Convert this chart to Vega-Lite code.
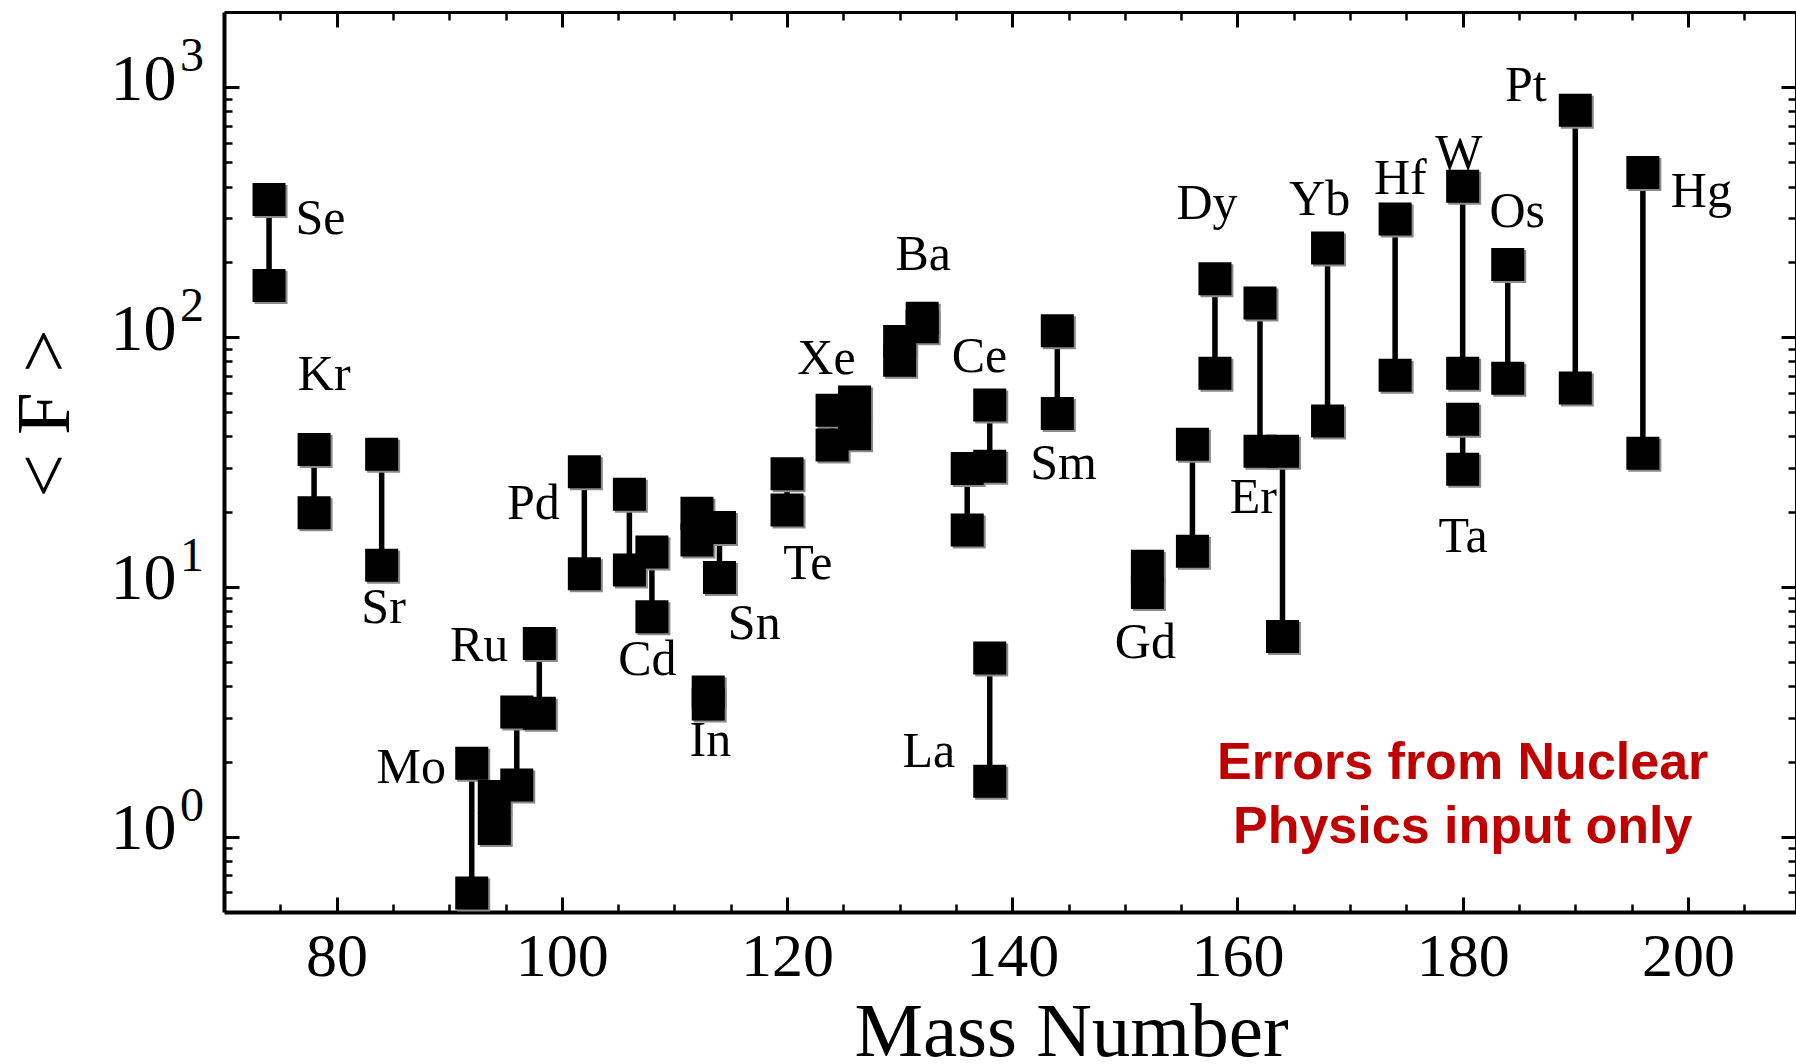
{
  "$schema": "https://vega.github.io/schema/vega-lite/v6.json",
  "width": 1572,
  "height": 900,
  "autosize": {"type": "none"},
  "padding": {"left": 224, "top": 12, "right": 0, "bottom": 152},
  "background": "white",
  "config": {
    "view": {"stroke": null},
    "axis": {
      "domainColor": "black",
      "tickColor": "black",
      "labelColor": "black",
      "labelFont": "Liberation Serif",
      "titleFont": "Liberation Serif",
      "titleColor": "black",
      "titleFontWeight": "normal",
      "grid": false
    }
  },
  "datasets": {
    "pairs": [
      {"el": "Se", "A": 74, "lo": 161, "hi": 355},
      {"el": "Kr", "A": 78, "lo": 19.8, "hi": 35.5},
      {"el": "Sr", "A": 84, "lo": 12.2, "hi": 34},
      {"el": "Mo", "A": 92, "lo": 0.595, "hi": 1.97},
      {"el": "Mo", "A": 94, "lo": 1.08, "hi": 1.45},
      {"el": "Ru", "A": 96, "lo": 1.61, "hi": 3.16},
      {"el": "Ru", "A": 98, "lo": 3.12, "hi": 5.94},
      {"el": "Pd", "A": 102, "lo": 11.3, "hi": 28.9},
      {"el": "Cd", "A": 106, "lo": 11.7, "hi": 23.5},
      {"el": "Cd", "A": 108, "lo": 7.6, "hi": 13.8},
      {"el": "Sn", "A": 112, "lo": 15.4, "hi": 19.7},
      {"el": "In", "A": 113, "lo": 3.4, "hi": 3.8},
      {"el": "Sn", "A": 114, "lo": 10.9, "hi": 17.3},
      {"el": "Te", "A": 120, "lo": 20.3, "hi": 28.4},
      {"el": "Xe", "A": 124, "lo": 37, "hi": 51},
      {"el": "Xe", "A": 126, "lo": 41, "hi": 55},
      {"el": "Ba", "A": 130, "lo": 80.7, "hi": 96},
      {"el": "Ba", "A": 132, "lo": 110, "hi": 119},
      {"el": "Ce", "A": 136, "lo": 16.9, "hi": 29.8},
      {"el": "Ce", "A": 138, "lo": 30.4, "hi": 53.5},
      {"el": "La", "A": 138, "lo": 1.67, "hi": 5.2},
      {"el": "Sm", "A": 144, "lo": 49.5, "hi": 106},
      {"el": "Gd", "A": 152, "lo": 9.5, "hi": 12.1},
      {"el": "Dy", "A": 156, "lo": 13.9, "hi": 37.2},
      {"el": "Dy", "A": 158, "lo": 71.6, "hi": 171},
      {"el": "Er", "A": 162, "lo": 34.9, "hi": 137},
      {"el": "Er", "A": 164, "lo": 6.33, "hi": 34.9},
      {"el": "Yb", "A": 168, "lo": 46.1, "hi": 227},
      {"el": "Hf", "A": 174, "lo": 70.3, "hi": 297},
      {"el": "Ta", "A": 180, "lo": 29.6, "hi": 46.9},
      {"el": "W", "A": 180, "lo": 71.6, "hi": 401},
      {"el": "Os", "A": 184, "lo": 68.4, "hi": 195},
      {"el": "Pt", "A": 190, "lo": 62.6, "hi": 809},
      {"el": "Hg", "A": 196, "lo": 34.3, "hi": 456}
    ],
    "labels": [
      {"t": "Se", "A": 78.57, "F": 257.6},
      {"t": "Kr", "A": 78.9, "F": 61.5},
      {"t": "Sr", "A": 84.17, "F": 7.2},
      {"t": "Mo", "A": 86.63, "F": 1.643},
      {"t": "Ru", "A": 92.65, "F": 5.03},
      {"t": "Pd", "A": 97.48, "F": 18.75},
      {"t": "Cd", "A": 107.6, "F": 4.43},
      {"t": "In", "A": 113.19, "F": 2.11},
      {"t": "Sn", "A": 117.09, "F": 6.19},
      {"t": "Te", "A": 121.84, "F": 10.8},
      {"t": "Xe", "A": 123.5, "F": 71.2},
      {"t": "Ba", "A": 132.09, "F": 184.9},
      {"t": "Ce", "A": 137.09, "F": 72.7},
      {"t": "La", "A": 132.6, "F": 1.9},
      {"t": "Sm", "A": 144.55, "F": 27.1},
      {"t": "Gd", "A": 151.82, "F": 5.21},
      {"t": "Dy", "A": 157.3, "F": 297.6},
      {"t": "Er", "A": 161.4, "F": 19.8},
      {"t": "Yb", "A": 167.3, "F": 306.8},
      {"t": "Hf", "A": 174.46, "F": 374.6},
      {"t": "W", "A": 179.65, "F": 471.7},
      {"t": "Ta", "A": 180.04, "F": 13.8},
      {"t": "Os", "A": 184.85, "F": 275.4},
      {"t": "Pt", "A": 185.6, "F": 884.7},
      {"t": "Hg", "A": 201.2, "F": 331}
    ],
    "exponents": [
      {"F": 1, "e": "0"},
      {"F": 10, "e": "1"},
      {"F": 100, "e": "2"},
      {"F": 1000, "e": "3"}
    ],
    "note": [
      {"A": 180, "F": 1.7, "t": "Errors from Nuclear\nPhysics input only"}
    ]
  },
  "resolve": {"axis": {"x": "independent", "y": "independent"}},
  "layer": [
    {
      "data": {"name": "pairs"},
      "mark": {"type": "rule", "strokeWidth": 5.5, "color": "black"},
      "encoding": {
        "x": {
          "field": "A", "type": "quantitative",
          "scale": {"domain": [70, 209.6], "nice": false, "zero": false},
          "axis": {
            "orient": "bottom",
            "values": [75, 80, 85, 90, 95, 100, 105, 110, 115, 120, 125, 130, 135, 140, 145, 150, 155, 160, 165, 170, 175, 180, 185, 190, 195, 200, 205],
            "tickSize": {"condition": {"test": "datum.value % 20 === 0", "value": -15}, "value": -8},
            "tickWidth": {"condition": {"test": "datum.value % 20 === 0", "value": 3}, "value": 2.5},
            "domainWidth": 4,
            "labelExpr": "datum.value % 20 === 0 ? datum.label : ''",
            "labelFontSize": 62,
            "labelBaseline": "alphabetic",
            "labelPadding": 78,
            "labelOverlap": false,
            "labelFlush": false,
            "labelBound": false,
            "title": "Mass Number",
            "titleFontSize": 77,
            "titleX": 847,
            "titleY": 143,
            "titleAlign": "center",
            "titleBaseline": "alphabetic"
          }
        },
        "y": {
          "field": "lo", "type": "quantitative",
          "scale": {"type": "log", "domain": [0.5, 2000], "nice": false},
          "axis": {
            "orient": "left",
            "values": [0.6, 0.7, 0.8, 0.9, 1, 2, 3, 4, 5, 6, 7, 8, 9, 10, 20, 30, 40, 50, 60, 70, 80, 90, 100, 200, 300, 400, 500, 600, 700, 800, 900, 1000],
            "tickSize": {"condition": {"test": "datum.value == 1 || datum.value == 10 || datum.value == 100 || datum.value == 1000", "value": -15}, "value": -8},
            "tickWidth": {"condition": {"test": "datum.value == 1 || datum.value == 10 || datum.value == 100 || datum.value == 1000", "value": 3}, "value": 2.5},
            "domainWidth": 4,
            "labelExpr": "(datum.value == 1 || datum.value == 10 || datum.value == 100 || datum.value == 1000) ? '10' : ''",
            "labelFontSize": 66,
            "labelBaseline": "alphabetic",
            "labelOffset": 12,
            "labelPadding": 63,
            "labelOverlap": false,
            "labelFlush": false,
            "labelBound": false,
            "title": "< F >",
            "titleFontSize": 77,
            "titleAngle": -90,
            "titleX": -179,
            "titleY": 401,
            "titleAlign": "center",
            "titleBaseline": "middle"
          }
        },
        "y2": {"field": "hi"}
      }
    },
    {
      "data": {"name": "pairs"},
      "transform": [{"fold": ["lo", "hi"], "as": ["end", "F"]}],
      "mark": {"type": "point", "shape": "square", "filled": true, "size": 1089, "color": "#8a8a8a", "opacity": 1, "xOffset": 2, "yOffset": 2},
      "encoding": {
        "x": {
          "field": "A", "type": "quantitative",
          "scale": {"domain": [70, 209.6], "nice": false, "zero": false},
          "axis": {
            "orient": "top",
            "values": [75, 80, 85, 90, 95, 100, 105, 110, 115, 120, 125, 130, 135, 140, 145, 150, 155, 160, 165, 170, 175, 180, 185, 190, 195, 200, 205],
            "tickSize": {"condition": {"test": "datum.value % 20 === 0", "value": -15}, "value": -8},
            "tickWidth": {"condition": {"test": "datum.value % 20 === 0", "value": 3}, "value": 2.5},
            "domainWidth": 3,
            "labels": false,
            "title": null
          }
        },
        "y": {
          "field": "F", "type": "quantitative",
          "scale": {"type": "log", "domain": [0.5, 2000], "nice": false},
          "axis": {
            "orient": "right",
            "values": [0.6, 0.7, 0.8, 0.9, 1, 2, 3, 4, 5, 6, 7, 8, 9, 10, 20, 30, 40, 50, 60, 70, 80, 90, 100, 200, 300, 400, 500, 600, 700, 800, 900, 1000],
            "tickSize": {"condition": {"test": "datum.value == 1 || datum.value == 10 || datum.value == 100 || datum.value == 1000", "value": -15}, "value": -8},
            "tickWidth": {"condition": {"test": "datum.value == 1 || datum.value == 10 || datum.value == 100 || datum.value == 1000", "value": 3}, "value": 2.5},
            "domainWidth": 3,
            "labels": false,
            "title": null
          }
        }
      }
    },
    {
      "data": {"name": "pairs"},
      "transform": [{"fold": ["lo", "hi"], "as": ["end", "F"]}],
      "mark": {"type": "point", "shape": "square", "filled": true, "size": 1089, "color": "black", "opacity": 1},
      "encoding": {
        "x": {"field": "A", "type": "quantitative", "scale": {"domain": [70, 209.6], "nice": false, "zero": false}, "axis": null},
        "y": {"field": "F", "type": "quantitative", "scale": {"type": "log", "domain": [0.5, 2000], "nice": false}, "axis": null}
      }
    },
    {
      "data": {"name": "labels"},
      "mark": {"type": "text", "font": "Liberation Serif", "fontSize": 50, "align": "center", "baseline": "alphabetic", "color": "black"},
      "encoding": {
        "x": {"field": "A", "type": "quantitative", "scale": {"domain": [70, 209.6], "nice": false, "zero": false}, "axis": null},
        "y": {"field": "F", "type": "quantitative", "scale": {"type": "log", "domain": [0.5, 2000], "nice": false}, "axis": null},
        "text": {"field": "t"}
      }
    },
    {
      "data": {"name": "exponents"},
      "mark": {"type": "text", "font": "Liberation Serif", "fontSize": 48, "align": "left", "baseline": "alphabetic", "color": "black", "dx": -44, "dy": -16, "clip": false},
      "encoding": {
        "x": {"datum": 70, "type": "quantitative", "scale": {"domain": [70, 209.6], "nice": false, "zero": false}, "axis": null},
        "y": {"field": "F", "type": "quantitative", "scale": {"type": "log", "domain": [0.5, 2000], "nice": false}, "axis": null},
        "text": {"field": "e"}
      }
    },
    {
      "data": {"name": "note"},
      "mark": {"type": "text", "font": "Liberation Sans", "fontSize": 52, "fontWeight": "bold", "align": "center", "baseline": "alphabetic", "color": "#C00000", "lineBreak": "\n", "lineHeight": 64},
      "encoding": {
        "x": {"field": "A", "type": "quantitative", "scale": {"domain": [70, 209.6], "nice": false, "zero": false}, "axis": null},
        "y": {"field": "F", "type": "quantitative", "scale": {"type": "log", "domain": [0.5, 2000], "nice": false}, "axis": null},
        "text": {"field": "t"}
      }
    }
  ]
}
